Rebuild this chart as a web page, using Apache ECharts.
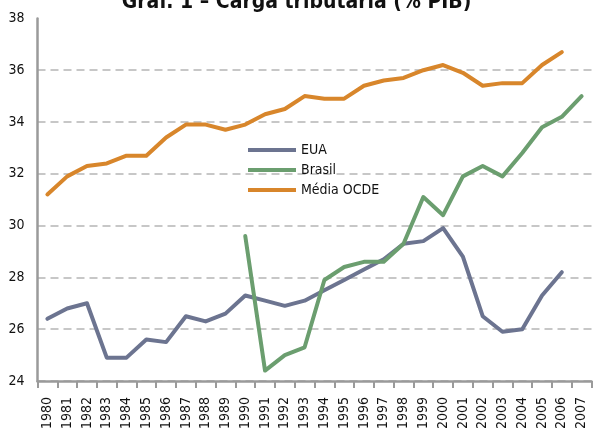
<!DOCTYPE html>
<html>
<head>
<meta charset="utf-8">
<script src="https://cdn.jsdelivr.net/npm/echarts@6/dist/echarts.min.js"></script>
<style>
  html, body { margin: 0; padding: 0; background: #fff; }
  #chart { width: 593px; height: 432px; }
</style>
</head>
<body>
<div id="chart"></div>
<script>
// anos
const years = ["1980", "1981", "1982", "1983", "1984", "1985", "1986", "1987", "1988", "1989",
  "1990", "1991", "1992", "1993", "1994", "1995", "1996", "1997", "1998", "1999",
  "2000", "2001", "2002", "2003", "2004", "2005", "2006", "2007"];

const eua = [26.4, 26.8, 27.0, 24.9, 24.9, 25.6, 25.5, 26.5, 26.3, 26.6,
  27.3, 27.1, 26.9, 27.1, 27.5, 27.9, 28.3, 28.7, 29.3, 29.4,
  29.9, 28.8, 26.5, 25.9, 26.0, 27.3, 28.2, null];

const brasil = [null, null, null, null, null, null, null, null, null, null,
  29.6, 24.4, 25.0, 25.3, 27.9, 28.4, 28.6, 28.6, 29.3, 31.1,
  30.4, 31.9, 32.3, 31.9, 32.8, 33.8, 34.2, 35.0];

const ocde = [31.2, 31.9, 32.3, 32.4, 32.7, 32.7, 33.4, 33.9, 33.9, 33.7,
  33.9, 34.3, 34.5, 35.0, 34.9, 34.9, 35.4, 35.6, 35.7, 36.0,
  36.2, 35.9, 35.4, 35.5, 35.5, 36.2, 36.7, null];

const font = "'Liberation Sans Narrow', 'DejaVu Sans Condensed', sans-serif";

const myChart = echarts.init(document.getElementById("chart"));

const serie = (name, data, color) => ({
  name: name,
  type: "line",
  data: data,
  showSymbol: false,
  connectNulls: false,
  lineStyle: { color: color, width: 4, cap: "round", join: "round" },
  itemStyle: { color: color },
});

const option = {
  animation: false,
  title: {
    text: "Graf. 1 – Carga tributária (% PIB)",
    left: "center",
    top: -13,
    textStyle: { fontFamily: font, fontWeight: "bold", fontSize: 21, color: "#111" },
  },
  legend: {
    orient: "vertical",
    left: 243,
    top: 138,
    itemWidth: 48,
    itemHeight: 4,
    itemGap: 6,
    icon: "rect",
    data: ["EUA", "Brasil", "Média OCDE"],
    textStyle: { fontFamily: font, fontSize: 14, color: "#111", padding: [0, 0, 4, 0] },
  },
  grid: {
    left: 37.5,
    right: 1.5,
    top: 18.4,
    bottom: 45.3,
    containLabel: false,
  },
  xAxis: {
    type: "category",
    data: years,
    boundaryGap: true,
    axisLine: { lineStyle: { color: "#9a9a9a", width: 2.5 } },
    axisTick: { show: true, length: 7, lineStyle: { color: "#9a9a9a", width: 2 } },
    axisLabel: { interval: 0, rotate: 90, margin: 16, fontFamily: font, fontSize: 14, color: "#111" },
  },
  yAxis: {
    type: "value",
    min: 24,
    max: 38,
    interval: 2,
    axisLine: { show: true, lineStyle: { color: "#9a9a9a", width: 2.5 } },
    axisTick: { show: false },
    axisLabel: { margin: 13, fontFamily: font, fontSize: 14, color: "#111" },
    splitLine: {
      show: true,
      showMaxLine: false,
      lineStyle: { color: "#b5b5b5", width: 1.5, type: [8, 5] },
    },
  },
  series: [
    serie("EUA", eua, "#6c7490"),
    serie("Brasil", brasil, "#6b9e6f"),
    serie("Média OCDE", ocde, "#d8862b"),
  ],
};

myChart.setOption(option);
window.onresize = function () {
  myChart.resize();
};
</script>
</body>
</html>
